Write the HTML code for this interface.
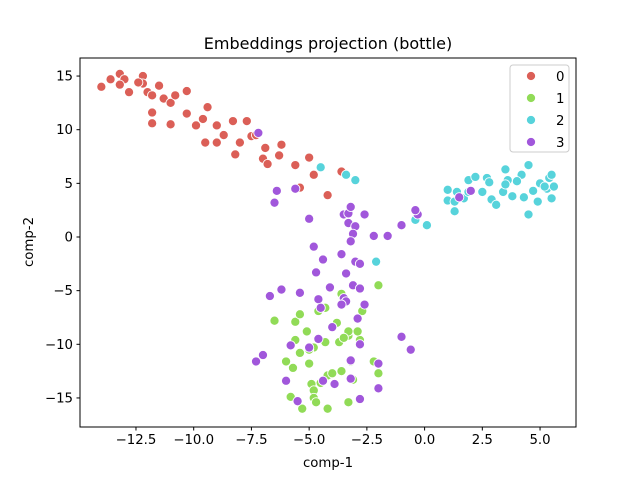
<!DOCTYPE html>
<html><head><meta charset="utf-8"><style>body{margin:0;background:#fff}svg{display:block;font-family:"DejaVu Sans","Liberation Sans",sans-serif}</style></head>
<body>
<svg id="chart" width="640" height="480" viewBox="0 0 640 480"></svg>
<script>
const xTicks=[-12.5,-10.0,-7.5,-5.0,-2.5,0.0,2.5,5.0];
const yTicks=[-15,-10,-5,0,5,10,15];
const classLabels=["0","1","2","3"];
const classColors=["#db5f57","#91db57","#57d3db","#a157db"];
const class0=[[-14.0,14.0],[-13.6,14.7],[-13.2,15.2],[-13.0,14.7],[-13.2,14.2],[-12.8,13.5],[-12.2,15.0],[-12.2,14.3],[-12.4,14.4],[-12.0,13.5],[-11.8,13.2],[-11.5,14.1],[-11.8,11.6],[-11.8,10.6],[-11.3,12.9],[-11.0,12.5],[-11.0,10.5],[-10.8,13.2],[-10.3,13.6],[-10.3,11.5],[-9.9,10.4],[-9.4,12.1],[-9.6,11.0],[-9.5,8.8],[-9.0,10.4],[-8.7,9.5],[-8.3,10.8],[-8.2,7.7],[-8.0,8.8],[-7.7,10.8],[-7.5,9.4],[-7.3,9.5],[-7.0,7.3],[-6.9,8.3],[-6.8,6.8],[-6.2,8.6],[-6.3,7.6],[-5.6,6.7],[-5.0,7.4],[-5.4,4.6],[-4.8,5.8],[-4.2,3.9],[-3.6,6.1],[-9.0,8.8]];
const class1=[[-2.0,-4.5],[-6.5,-7.8],[-5.6,-7.9],[-5.4,-7.2],[-5.1,-8.8],[-4.6,-6.9],[-4.3,-6.6],[-3.6,-5.3],[-2.7,-6.9],[-5.6,-9.6],[-5.4,-10.8],[-4.8,-10.3],[-3.7,-9.8],[-3.3,-9.2],[-2.8,-9.6],[-3.3,-8.8],[-4.3,-9.8],[-6.0,-11.6],[-5.0,-11.8],[-3.2,-11.6],[-4.2,-12.9],[-5.7,-12.2],[-4.9,-13.7],[-4.5,-13.6],[-2.2,-11.6],[-2.0,-12.7],[-3.6,-12.5],[-3.1,-13.3],[-4.8,-14.3],[-4.8,-15.0],[-4.7,-15.4],[-5.8,-14.9],[-5.3,-16.0],[-4.2,-16.0],[-3.3,-15.4],[-3.5,-9.4],[-2.9,-8.8],[-4.0,-12.7],[-3.8,-8.0],[-5.0,-10.5]];
const class2=[[-4.5,6.5],[-3.4,5.8],[-3.0,5.3],[-2.1,-2.3],[0.1,1.1],[-0.4,1.6],[1.0,4.4],[1.0,3.4],[1.3,2.4],[1.3,3.3],[1.4,4.2],[1.7,3.6],[1.9,4.2],[1.9,5.3],[2.2,5.6],[2.5,4.2],[2.7,5.5],[2.8,5.1],[2.9,3.5],[3.1,3.0],[3.4,4.2],[3.5,6.3],[3.6,5.3],[3.8,3.8],[4.2,5.8],[4.0,5.2],[4.3,3.7],[4.5,2.1],[4.5,6.7],[4.7,4.3],[4.9,3.3],[5.0,5.0],[5.3,4.5],[5.4,5.5],[5.5,5.8],[5.6,4.7],[5.5,3.6],[5.2,4.7],[3.5,4.9]];
const class3=[[-7.2,9.7],[-6.4,4.3],[-6.5,3.2],[-5.6,4.5],[-5.0,1.7],[-4.8,-0.9],[-3.5,2.1],[-3.3,2.2],[-3.2,2.8],[-3.3,1.3],[-3.0,1.0],[-3.1,0.3],[-3.2,-0.4],[-2.6,2.1],[-2.2,0.1],[-1.6,0.1],[-1.0,1.1],[-0.3,2.1],[-0.4,2.5],[1.5,3.7],[2.0,4.3],[-4.4,-2.1],[-3.6,-1.6],[-3.0,-2.3],[-2.8,-2.5],[-4.7,-3.3],[-3.4,-3.4],[-3.1,-4.5],[-2.8,-4.8],[-3.5,-5.7],[-3.4,-6.0],[-4.1,-4.7],[-4.6,-5.8],[-6.2,-4.9],[-5.4,-5.2],[-6.7,-5.5],[-2.6,-6.3],[-4.5,-6.6],[-3.6,-6.3],[-2.9,-7.6],[-4.0,-8.4],[-4.6,-9.5],[-1.0,-9.3],[-0.6,-10.5],[-5.0,-10.3],[-2.8,-10.0],[-3.2,-11.5],[-7.0,-11.0],[-7.3,-11.6],[-5.8,-10.1],[-2.0,-11.8],[-6.0,-13.4],[-4.4,-13.4],[-3.2,-13.2],[-2.0,-14.1],[-2.8,-15.1],[-5.5,-15.3],[-3.9,-13.7]];
const classes=[class0,class1,class2,class3];

const L=80,R=576,T=58,B=427;
const xs=v=>424.6+v*23.09;
const ys=v=>237-v*10.73;
const NS="http://www.w3.org/2000/svg";
const svg=document.getElementById('chart');
function mk(tag,attrs,parent){const e=document.createElementNS(NS,tag);for(const k in attrs)e.setAttribute(k,attrs[k]);(parent||svg).appendChild(e);return e;}

const bg=mk('rect',{x:L,y:T,width:R-L,height:B-T,fill:'#fff'});



const pts=mk('g',{});


classes.forEach((arr,ci)=>{arr.forEach(p=>{
  const c=mk('circle',{cx:xs(p[0]),cy:ys(p[1]),r:4.6,fill:classColors[ci],stroke:'#fff','stroke-width':0.9},pts);
  
  
});});

const frame=mk('rect',{x:L,y:T,width:R-L,height:B-T,fill:'none',stroke:'#000','stroke-width':1});



xTicks.forEach(v=>{
  const x=xs(v);
  const t=mk('line',{x1:x,x2:x,y1:B,y2:B+3.5,stroke:'#000'});
  
  
  const l=mk('text',{x:x,y:B+17,'font-size':'13.3','text-anchor':'middle',fill:'#000'});
  l.textContent=(v<0?'\u2212':'')+Math.abs(v).toFixed(1);
  
  
});
yTicks.forEach(v=>{
  const y=ys(v);
  const t=mk('line',{x1:L-3.5,x2:L,y1:y,y2:y,stroke:'#000'});
  
  
  const l=mk('text',{x:L-7,y:y+4.5,'font-size':'13.3','text-anchor':'end',fill:'#000'});
  l.textContent=(v<0?'\u2212':'')+Math.abs(v);
  
  
});

const title=mk('text',{x:328,y:49,'font-size':'16','text-anchor':'middle',fill:'#000'});
title.textContent='Embeddings projection (bottle)';


const xl=mk('text',{x:328,y:467,'font-size':'13.3','text-anchor':'middle',fill:'#000'});
xl.textContent='comp-1';


const yl=mk('text',{x:0,y:0,'font-size':'13.3','text-anchor':'middle',fill:'#000',transform:'translate(33,242) rotate(-90)'});
yl.textContent='comp-2';



const lg=mk('g',{});


mk('rect',{x:510,y:65,width:59,height:87,rx:3,fill:'#fff',stroke:'#ccc','stroke-width':1},lg);
classLabels.forEach((lab,i)=>{
  const y=76+i*22;
  const g=mk('g',{},lg);
  
  
  mk('circle',{cx:531,cy:y,r:4.6,fill:classColors[i],stroke:'#fff','stroke-width':0.9},g);
  const t=mk('text',{x:556,y:y+5,'font-size':'13.3',fill:'#000'},g);
  t.textContent=lab;
});
</script>
</body></html>
